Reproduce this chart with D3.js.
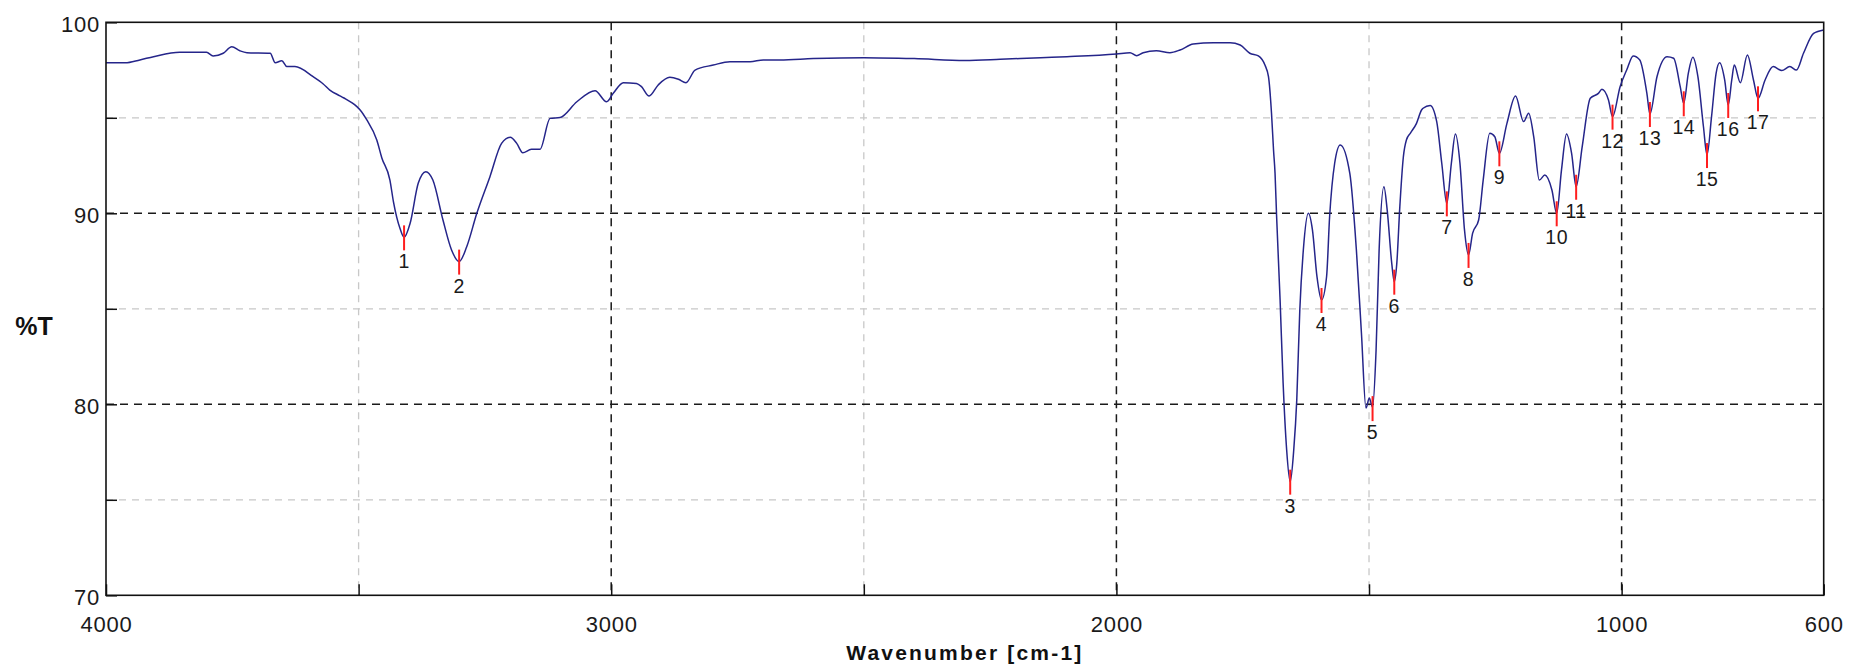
<!DOCTYPE html>
<html>
<head>
<meta charset="utf-8">
<script src="https://cdn.jsdelivr.net/npm/d3@7"></script>
<style>
  html, body { margin: 0; padding: 0; background: #fff; }
  svg { display: block; }
  text { font-family: "Liberation Sans", Arial, Helvetica, sans-serif; }
</style>
</head>
<body>
<svg id="chart" width="1850" height="667"></svg>
<script>
// ---------- data ----------
const wavenumber = [
  4000, 3962, 3933, 3906, 3854, 3801, 3788, 3768, 3751, 3735, 3721, 3675, 3665, 3652, 3642, 3626,
  3590, 3570, 3557, 3537, 3530, 3504, 3497, 3484, 3464, 3454, 3438, 3431, 3418, 3410, 3398, 3382,
  3367, 3353, 3333, 3316, 3301, 3286, 3266, 3240, 3217, 3200, 3187, 3175, 3158, 3141, 3121, 3101,
  3068, 3032, 3009, 2996, 2976, 2950, 2940, 2925, 2907, 2884, 2867, 2852, 2834, 2798, 2765, 2725,
  2699, 2666, 2600, 2500, 2400, 2300, 2230, 2150, 2098, 2000, 1973, 1960, 1947, 1921, 1894, 1874,
  1848, 1808, 1775, 1755, 1736, 1719, 1706, 1699, 1693, 1689, 1686, 1683, 1676, 1670, 1663, 1656,
  1649, 1643, 1637, 1630, 1620, 1612, 1603, 1594, 1584, 1578, 1568, 1557, 1538, 1525, 1515, 1506,
  1499.5, 1493, 1486, 1480, 1470.5, 1464, 1455, 1450, 1445, 1439, 1432, 1426, 1418, 1406, 1396, 1393,
  1379, 1366, 1356, 1346, 1337, 1329, 1320, 1311, 1303, 1295, 1283, 1274, 1261, 1251, 1242, 1227,
  1210, 1194, 1184, 1174, 1163, 1152, 1138, 1128.5, 1119, 1109, 1099, 1090, 1078, 1062, 1046, 1039,
  1026, 1018, 1003, 990, 977, 964, 950, 944, 930, 910, 897, 884, 877, 868, 859, 849,
  838, 831, 822, 813, 806, 796, 789, 782, 777, 765, 751, 739, 730, 716, 700, 683,
  667, 654, 640, 620, 600
];
const transmittance = [
  97.88, 97.88, 98.03, 98.2, 98.43, 98.43, 98.24, 98.38, 98.72, 98.51, 98.41, 98.38, 97.88, 97.99, 97.68, 97.68,
  97.15, 96.77, 96.45, 96.15, 96.05, 95.6, 95.41, 94.9, 93.84, 92.9, 91.74, 90.6, 89.2, 88.74, 89.48, 91.57,
  92.18, 91.74, 89.65, 88.08, 87.47, 88.25, 90.0, 91.92, 93.66, 93.98, 93.66, 93.17, 93.35, 93.35, 94.97, 95.02,
  95.84, 96.42, 95.84, 96.28, 96.84, 96.8, 96.63, 96.14, 96.72, 97.12, 97.02, 96.84, 97.5, 97.76, 97.94, 97.94,
  98.03, 98.03, 98.1, 98.15, 98.1, 98.0, 98.06, 98.15, 98.2, 98.34, 98.41, 98.25, 98.41, 98.51, 98.41, 98.55,
  98.86, 98.93, 98.93, 98.81, 98.38, 98.24, 97.76, 97.15, 95.24, 93.31, 92.09, 89.9, 85.46, 81.1, 77.61, 75.95,
  77.61, 80.23, 84.94, 88.08, 90.0, 89.13, 86.68, 85.46, 86.68, 89.82, 92.62, 93.58, 92.09, 88.08, 83.72, 79.8,
  80.33, 79.85, 82.84, 88.08, 91.39, 90.17, 87.38, 86.42, 87.38, 90.35, 92.96, 93.84, 94.2, 94.71, 95.41, 95.5,
  95.65, 94.8, 92.62, 90.52, 92.62, 94.15, 92.62, 89.13, 87.82, 88.95, 89.65, 91.74, 94.19, 94.01, 93.14, 94.71,
  96.14, 94.8, 95.24, 94.01, 91.74, 92.0, 91.22, 90.0, 92.27, 94.15, 93.14, 91.39, 93.49, 96.02, 96.28, 96.49,
  95.93, 95.06, 96.63, 97.5, 98.24, 98.03, 96.28, 95.2, 97.15, 98.2, 98.12, 96.63, 95.76, 97.33, 98.17, 97.15,
  94.53, 93.05, 95.06, 97.33, 97.88, 96.98, 95.67, 96.98, 97.76, 96.84, 98.29, 96.98, 96.02, 96.98, 97.68, 97.47,
  97.68, 97.5, 98.38, 99.42, 99.6
];

const peakLabels = ["1","2","3","4","5","6","7","8","9","10","11","12","13","14","15","16","17"];
const peakWavenumber = [3410, 3301, 1656, 1594, 1493, 1450, 1346, 1303, 1242, 1128.5, 1090, 1018, 944, 877, 831, 789, 730];
const peakTransmittance = [88.74, 87.47, 75.95, 85.46, 79.8, 86.42, 90.52, 87.82, 93.14, 90.0, 91.39, 95.06, 95.2, 95.76, 93.05, 95.67, 96.02];

const xTicks = [4000, 3500, 3000, 2500, 2000, 1500, 1000, 600];
const xTickLabels = ["4000", "", "3000", "", "2000", "", "1000", "600"];
const xMajorGrid = [3000, 2000, 1000];
const xMinorGrid = [3500, 2500, 1500];
const yTicks = [70, 75, 80, 85, 90, 95, 100];
const yTickLabels = ["70", "", "80", "", "90", "", "100"];
const yMajorGrid = [80, 90];
const yMinorGrid = [75, 85, 95];

const xTitle = "Wavenumber [cm-1]";
const yTitle = "%T";

// ---------- layout ----------
const W = 1850, H = 667;
const margin = { left: 106, right: 26.3, top: 22.3, bottom: 71.7 };
const svg = d3.select("#chart");
const x = d3.scaleLinear().domain([4000, 600]).range([margin.left, W - margin.right]);
const y = d3.scaleLinear().domain([70, 100]).range([H - margin.bottom, margin.top]);
const [x0, x1] = x.range();
const [y0, y1] = y.range(); // y0 bottom, y1 top

// grid
const grid = svg.append("g");
grid.selectAll("line.vminor").data(xMinorGrid).join("line")
  .attr("x1", d => x(d)).attr("x2", d => x(d)).attr("y1", y1).attr("y2", y0)
  .attr("stroke", "#c8c8c8").attr("stroke-width", 1.3).attr("stroke-dasharray", "7,6");
grid.selectAll("line.hminor").data(yMinorGrid).join("line")
  .attr("x1", x0).attr("x2", x1).attr("y1", d => y(d)).attr("y2", d => y(d))
  .attr("stroke", "#c8c8c8").attr("stroke-width", 1.3).attr("stroke-dasharray", "7,6");
const grid2 = svg.append("g");
grid2.selectAll("line").data(xMajorGrid).join("line")
  .attr("x1", d => x(d)).attr("x2", d => x(d)).attr("y1", y1).attr("y2", y0)
  .attr("stroke", "#1a1a1a").attr("stroke-width", 1.5).attr("stroke-dasharray", "8,6");
const grid3 = svg.append("g");
grid3.selectAll("line").data(yMajorGrid).join("line")
  .attr("x1", x0).attr("x2", x1).attr("y1", d => y(d)).attr("y2", d => y(d))
  .attr("stroke", "#1a1a1a").attr("stroke-width", 1.5).attr("stroke-dasharray", "8,6");

// spectrum
const pts = wavenumber.map((w, i) => [w, transmittance[i]]);
const line = d3.line().x(d => x(d[0])).y(d => y(d[1])).curve(d3.curveMonotoneX);
svg.append("path").datum(pts)
  .attr("d", line).attr("fill", "none")
  .attr("stroke", "#25258a").attr("stroke-width", 1.5).attr("stroke-linejoin", "round");

// axes
const xAxis = d3.axisBottom(x).tickValues(xTicks).tickSize(-11).tickPadding(21)
  .tickFormat((d, i) => xTickLabels[i]);
const gx = svg.append("g").attr("transform", `translate(0,${y0})`).call(xAxis);
const yAxis = d3.axisLeft(y).tickValues(yTicks).tickSize(-11).tickPadding(6)
  .tickFormat((d, i) => yTickLabels[i]);
const gy = svg.append("g").attr("transform", `translate(${x0},0)`).call(yAxis);
[gx, gy].forEach(g => {
  g.select(".domain").remove();
  g.selectAll(".tick line").attr("stroke", "#111").attr("stroke-width", 1.5);
  g.selectAll(".tick text").attr("fill", "#1a1a1a").attr("font-size", 22).attr("letter-spacing", "0.8px");
});
gy.selectAll(".tick text").attr("dy", "0.42em");

// frame
svg.append("rect").attr("x", x0).attr("y", y1).attr("width", x1 - x0).attr("height", y0 - y1)
  .attr("fill", "none").attr("stroke", "#111").attr("stroke-width", 1.6);

// peak markers
const peaks = peakLabels.map((l, i) => ({ label: l, w: peakWavenumber[i], t: peakTransmittance[i] }));
svg.append("g").selectAll("line").data(peaks).join("line")
  .attr("x1", d => x(d.w)).attr("x2", d => x(d.w))
  .attr("y1", d => y(d.t) - 12).attr("y2", d => y(d.t) + 13)
  .attr("stroke", "#ff1e1e").attr("stroke-width", 2);
svg.append("g").selectAll("text").data(peaks).join("text")
  .attr("x", d => x(d.w)).attr("y", d => y(d.t) + 31)
  .attr("text-anchor", "middle").attr("font-size", 19.5).attr("fill", "#1a1a1a")
  .attr("letter-spacing", "0.5px")
  .text(d => d.label);

// titles
svg.append("text").attr("x", (x0 + x1) / 2).attr("y", 660)
  .attr("text-anchor", "middle").attr("font-size", 21).attr("font-weight", "bold")
  .attr("letter-spacing", "2.2px").attr("fill", "#111").text(xTitle);
svg.append("text").attr("x", 34).attr("y", 335)
  .attr("text-anchor", "middle").attr("font-size", 25).attr("font-weight", "bold")
  .attr("fill", "#111").text(yTitle);
</script>
</body>
</html>
